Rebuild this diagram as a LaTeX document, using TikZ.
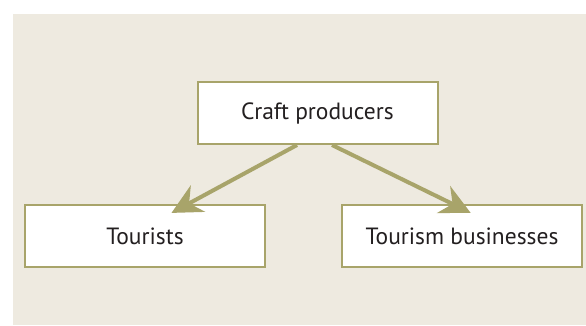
\documentclass[tikz,border=0pt]{standalone}
\usepackage{fontspec}
\setmainfont{PT Sans}
\usetikzlibrary{arrows.meta}
\definecolor{panelColor}{RGB}{238, 234, 224}
\definecolor{accentColor}{RGB}{168, 164, 106}
\definecolor{textColor}{RGB}{35, 31, 32}

\begin{document}
\begin{tikzpicture}[
    x=1pt, y=-1pt,
    every node/.style={font=\fontsize{23.5}{28}\selectfont, text=textColor},
    role box/.style={draw=accentColor, line width=2pt, fill=white, inner sep=0pt,
        minimum width=240pt, minimum height=62pt, align=center},
    flow arrow/.style={accentColor, line width=4pt,
        -{Stealth[length=30pt, width=30pt, inset=10pt]}, shorten >=-4pt}
]

    \useasboundingbox (0,0) rectangle (586,325);
    \fill[panelColor] (13,14) rectangle (586,325);

    \node[role box] (producers) at (317.5,113) {Craft producers};
    \node[role box] (tourists)  at (145,236)   {Tourists};
    \node[role box] (business)  at (462,236)   {Tourism businesses};

    \coordinate (tourists_in) at (175,211);
    \coordinate (business_in) at (467,211);

    \draw[flow arrow] (producers.south -| 297,0) -- (tourists_in);
    \draw[flow arrow] (producers.south -| 332,0) -- (business_in);
\end{tikzpicture}
\end{document}
